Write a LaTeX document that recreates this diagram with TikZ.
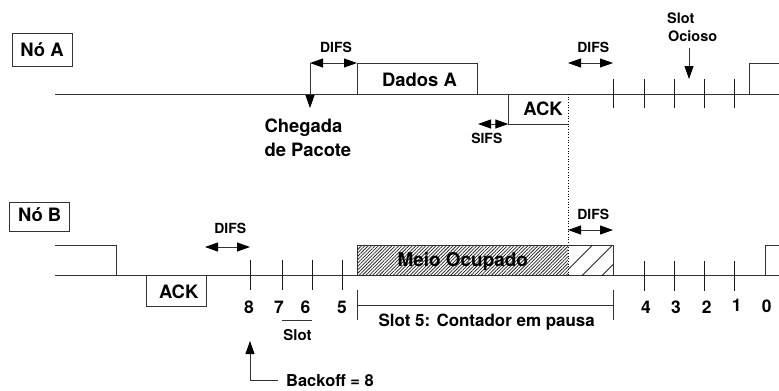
\documentclass[tikz,border=0pt]{standalone}
\usepackage{fontspec}
\setmainfont{TeX Gyre Heros}
\usetikzlibrary{arrows.meta,patterns.meta}
\begin{document}
\begin{tikzpicture}[x=1bp,y=-1bp,
  ln/.style={line width=0.9bp, draw=black!80},
  tk/.style={line width=0.9bp, draw=black!90},
  tip/.tip={Triangle[length=13bp 0 0,width=9bp 0 0,color=black]},
  dim/.style={ln, tip-tip},
  arr/.style={ln, -tip},
  lbl/.style={font=\bfseries\fontsize{14}{16}\selectfont, inner sep=0, anchor=base},
  big/.style={font=\bfseries\fontsize{18.5}{22}\selectfont, inner sep=0, anchor=base},
  num/.style={font=\bfseries\fontsize{17.5}{20}\selectfont, inner sep=0, anchor=base},
  mid/.style={font=\bfseries\fontsize{16.5}{19}\selectfont, inner sep=0, anchor=base},
  namebox/.style={ln, draw, inner sep=0, minimum width=60bp}
]
\useasboundingbox (0,0) rectangle (779,390);

% ---------------- Node A ----------------
\node[namebox, minimum height=33bp] (boxA) at (42,49.7) {};
\node[big] (nA) at (42,56.7) {Nó A};

\coordinate (a0) at (55,94);
\coordinate (a1) at (779,94);
\draw[ln] (a0) -- (a1);

% data frame
\draw[ln] (357,94) -- (357,63) -- (477.7,63) -- (477.7,94);
\node[big] (dados) at (419.5,86.7) {Dados A};

% DIFS + packet arrival
\coordinate (chg) at (310,63);
\coordinate (dA) at (357,63);
\draw[dim] (chg) -- (dA);
\node[lbl] (difsA1) at (336,52.7) {DIFS};
\coordinate (chgEnd) at (310,108);
\draw[arr] (chg) -- (chgEnd);
\node[big, anchor=base west] (cheg1) at (264.3,132.3) {Chegada};
\node[big, anchor=base west] (cheg2) at (264.3,156) {de Pacote};

% ACK from B (below line)
\draw[ln] (508.3,94) -- (508.3,124) -- (568,124);
\node[big] (ackA) at (543,115) {ACK};
\coordinate (sifs0) at (478,124);
\coordinate (sifs1) at (508.3,124);
\draw[dim] (sifs0) -- (sifs1);
\node[lbl] (sifs) at (486.8,143.3) {SIFS};

% dotted separator
\coordinate (dot0) at (568,94);
\coordinate (dot1) at (568,275.5);
\draw[line width=0.7bp, black, dotted] (dot0) -- (dot1);

% DIFS 2 on A
\coordinate (dA2a) at (568,63);
\coordinate (dA2b) at (613,63);
\draw[dim] (dA2a) -- (dA2b);
\node[lbl] (difsA2) at (593.3,52.7) {DIFS};

% slots on A
\foreach \x in {613,644,674,704,734} \draw[tk] (\x,79) -- (\x,108);
\draw[ln] (749,94) -- (749,63) -- (779,63);
\node[font=\bfseries\fontsize{14.5}{17}\selectfont, inner sep=0, anchor=base west] (slA) at (667,23.3) {Slot};
\node[font=\bfseries\fontsize{14.5}{17}\selectfont, inner sep=0, anchor=base west] (ocA) at (668,41.7) {Ocioso};
\coordinate (oc0) at (689,48);
\coordinate (oc1) at (689,79);
\draw[arr] (oc0) -- (oc1);

% ---------------- Node B ----------------
\node[namebox, minimum height=29bp] (boxB) at (39.2,217.3) {};
\node[big] (nB) at (39.7,221.7) {Nó B};

\coordinate (b0) at (55,275.5);
\coordinate (b1) at (779,275.5);
\draw[ln] (b0) -- (b1);

% previous frame
\draw[ln] (55,245) -- (116,245) -- (116,275.5);
% ACK
\draw[ln] (146,275.5) rectangle (206,306);
\node[big] (ackB) at (178.7,298.3) {ACK};

% DIFS B1
\coordinate (dB1a) at (205,247);
\coordinate (dB1b) at (250,247);
\draw[dim] (dB1a) -- (dB1b);
\node[lbl] (difsB1) at (230.3,233.3) {DIFS};

% backoff ticks
\foreach \x in {250,282,312,342} \draw[tk] (\x,260) -- (\x,290);
\node[num] (n8) at (249,313.3) {8};
\node[num] (n7) at (279,313.3) {7};
\node[num] (n6) at (305.5,313.3) {6};
\node[num] (n5) at (342,313.3) {5};
\draw[ln] (281.7,320.7) -- (311.7,320.7);
\node[font=\bfseries\fontsize{15}{18}\selectfont, inner sep=0, anchor=base] (slotB) at (297.5,340.7) {Slot};

% Backoff arrow
\coordinate (bk0) at (278,380.5);
\coordinate (bk1) at (250,380.5);
\coordinate (bk2) at (250,341);
\draw[arr] (bk0) -- (bk1) -- (bk2);
\node[mid, anchor=base west] (backoff) at (286,386.7) {Backoff = 8};

% busy medium
\fill[pattern={Lines[angle=45,distance=2.4bp,line width=0.75bp]}, pattern color=black!85] (357,245) rectangle (568,275.5);
\draw[ln] (357,275.5) -- (357,245) -- (568,245);
\node[font=\bfseries\fontsize{19}{22}\selectfont, inner sep=0, anchor=base] (meio) at (462.8,266.7) {Meio Ocupado};

% DIFS part (sparse hatch)
\begin{scope}
  \clip (568,245) rectangle (613,275.5);
  \foreach \c in {562,582,602} \draw[line width=0.7bp, black] (\c,275.5) -- ++(35,-35);
\end{scope}
\draw[ln] (568,245) -- (613,245) -- (613,275.5);
\coordinate (dB2a) at (568,230);
\coordinate (dB2b) at (613,230);
\draw[dim] (dB2a) -- (dB2b);
\node[lbl] (difsB2) at (593.3,219.3) {DIFS};

% paused bracket
\draw[ln] (357,290) -- (357,320);
\draw[ln] (613,290) -- (613,320);
\draw[ln] (357,305) -- (613,305);
\node[font=\bfseries\fontsize{17}{20}\selectfont, inner sep=0, anchor=base] (pausa) at (486.7,326.7) {Slot 5: Contador em pausa};

% remaining slots
\foreach \x in {644,674,704,734} \draw[tk] (\x,261) -- (\x,291);
\node[num] (n4) at (646,313.5) {4};
\node[num] (n3) at (676,313.5) {3};
\node[num] (n2) at (706.7,313.5) {2};
\node[num] (n1) at (736.7,311) {1};
\node[num] (n0) at (766.7,312.7) {0};
\draw[ln] (765,275.5) -- (765,245) -- (779,245);
\end{tikzpicture}
\end{document}
